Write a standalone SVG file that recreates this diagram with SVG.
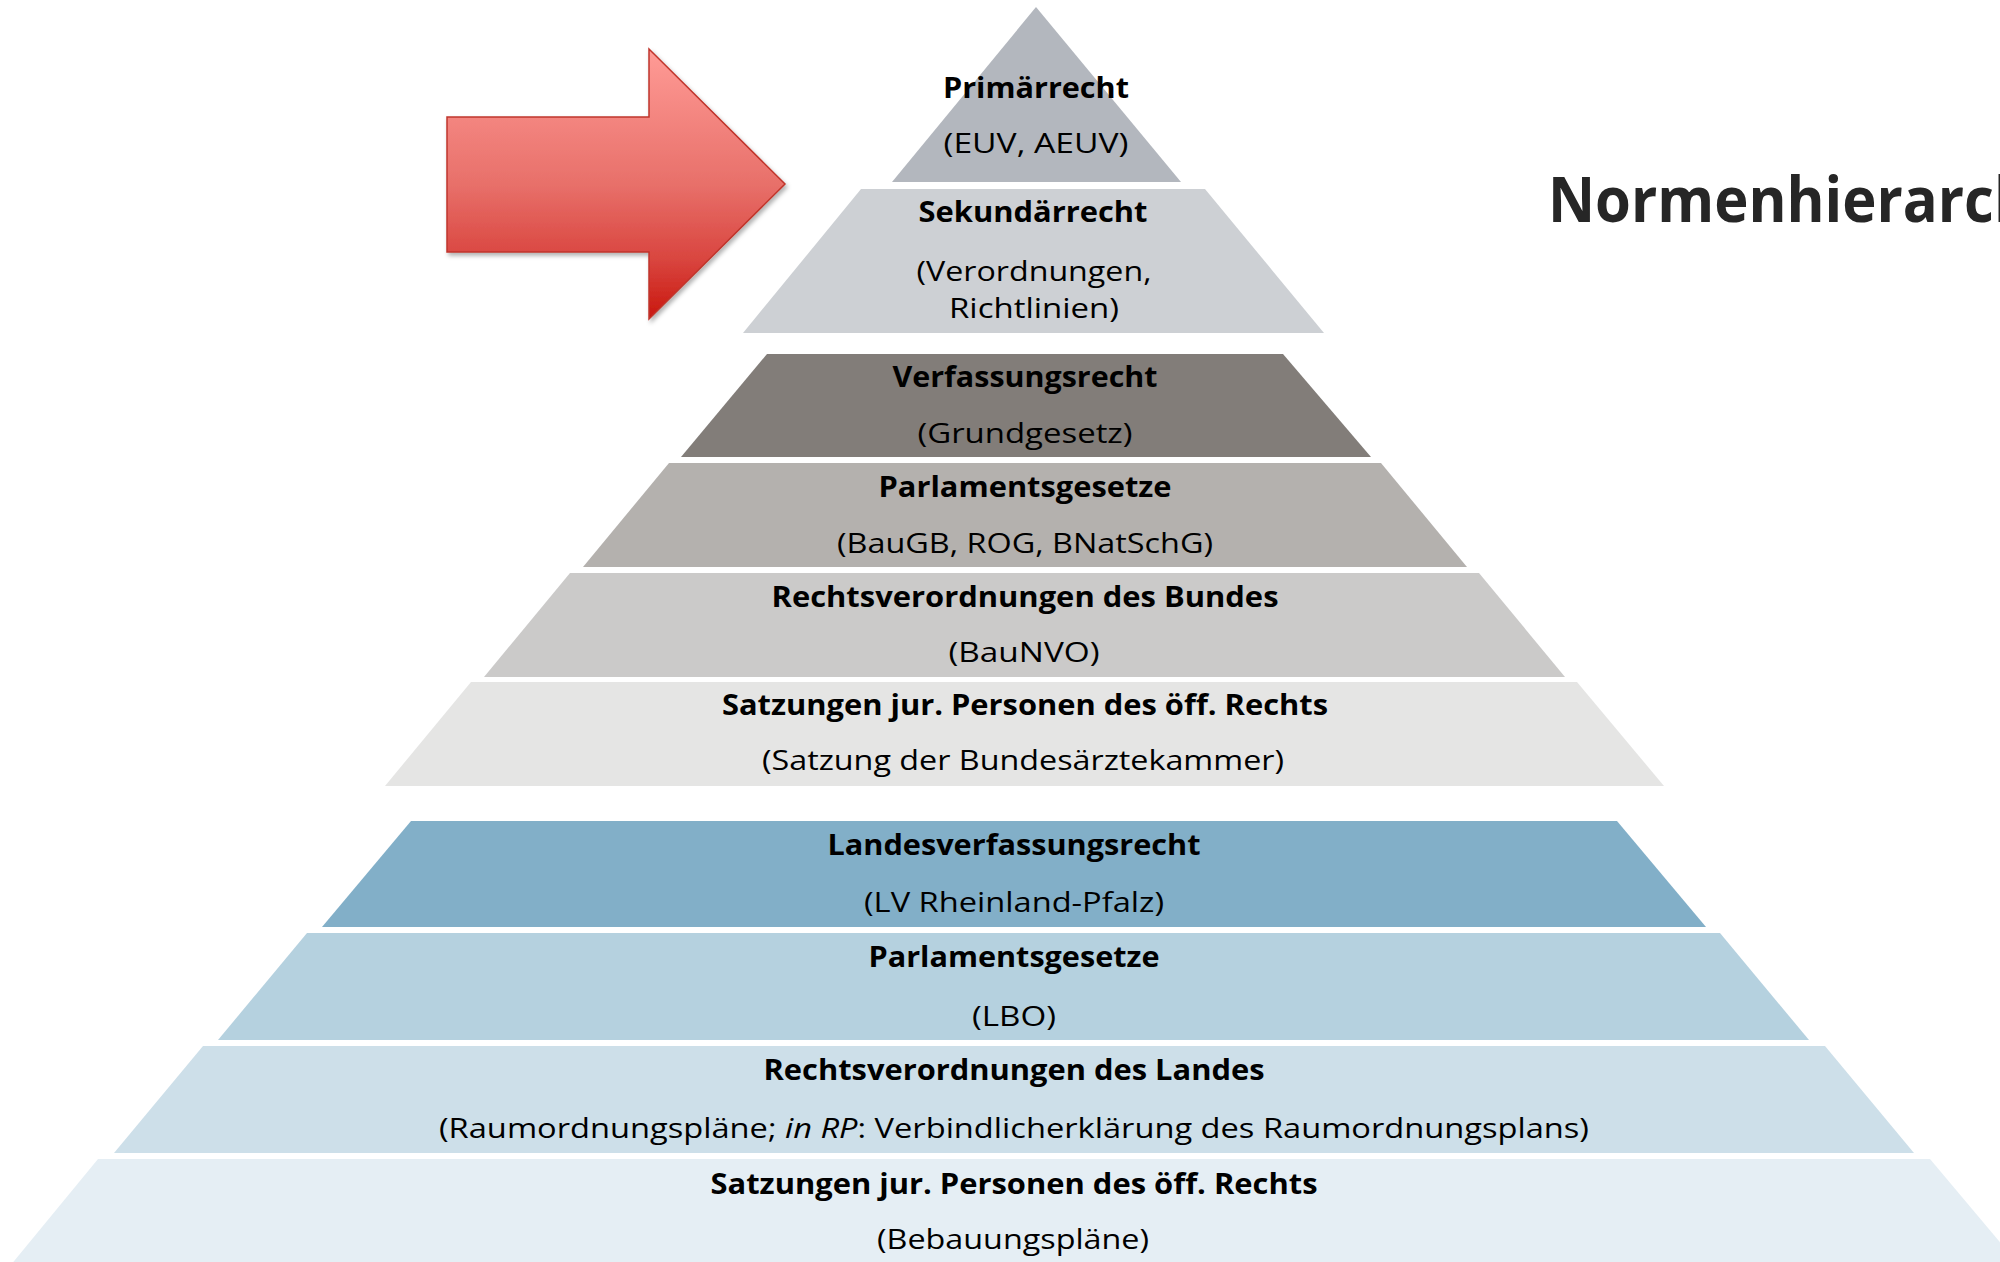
<svg xmlns="http://www.w3.org/2000/svg" width="2000" height="1262" viewBox="0 0 2000 1262">
  <defs>
    <linearGradient id="arrowGrad" x1="0" y1="49" x2="0" y2="319" gradientUnits="userSpaceOnUse">
      <stop offset="0" stop-color="#ff9b96"/>
      <stop offset="0.5" stop-color="#e8706a"/>
      <stop offset="0.78" stop-color="#d9453f"/>
      <stop offset="1" stop-color="#c9170e"/>
    </linearGradient>
    <filter id="shadow" x="-10%" y="-10%" width="130%" height="130%">
      <feDropShadow dx="2" dy="3" stdDeviation="2" flood-color="#000" flood-opacity="0.3"/>
    </filter>
    <style>
      .t { font-family: "Open Sans", "Liberation Sans", sans-serif; font-size: 28px; fill: #000; text-anchor: middle; }
      .b { font-weight: bold; }
      .title { font-family: "Open Sans", "Liberation Sans", sans-serif; font-size: 63px; font-weight: bold; fill: #262626; }
    </style>
  </defs>

  <rect x="0" y="0" width="2000" height="1262" fill="#ffffff"/>

  <g id="arrow">
    <polygon points="447,117 649,117 649,49 785,184 649,319 649,252 447,252" fill="url(#arrowGrad)" stroke="#c0352c" stroke-width="1.5" filter="url(#shadow)"/>
  </g>

  <g id="title">
    <text class="title" x="1548" y="222" textLength="484" lengthAdjust="spacingAndGlyphs">Normenhierarch</text>
  </g>

  <g id="primaerrecht">
    <polygon points="1036,7 1181,182 892,182" fill="#b3b7be"/>
    <text class="t b" x="1036" y="98" textLength="186" lengthAdjust="spacingAndGlyphs">Primärrecht</text>
    <text class="t" x="1036" y="153" textLength="185" lengthAdjust="spacingAndGlyphs">(EUV, AEUV)</text>
  </g>

  <g id="sekundaerrecht">
    <polygon points="861,189 1205,189 1324,333 743,333" fill="#cdd0d4"/>
    <text class="t b" x="1033" y="222" textLength="229" lengthAdjust="spacingAndGlyphs">Sekundärrecht</text>
    <text class="t" x="1034" y="281" textLength="235" lengthAdjust="spacingAndGlyphs">(Verordnungen,</text>
    <text class="t" x="1034" y="318" textLength="170" lengthAdjust="spacingAndGlyphs">Richtlinien)</text>
  </g>

  <g id="verfassungsrecht">
    <polygon points="767,354 1283,354 1371,457 681,457" fill="#827d79"/>
    <text class="t b" x="1025" y="387" textLength="265" lengthAdjust="spacingAndGlyphs">Verfassungsrecht</text>
    <text class="t" x="1025" y="443" textLength="215" lengthAdjust="spacingAndGlyphs">(Grundgesetz)</text>
  </g>

  <g id="parlamentsgesetze-bund">
    <polygon points="669,463 1381,463 1467,567 583,567" fill="#b4b1ae"/>
    <text class="t b" x="1025" y="497" textLength="293" lengthAdjust="spacingAndGlyphs">Parlamentsgesetze</text>
    <text class="t" x="1025" y="553" textLength="376" lengthAdjust="spacingAndGlyphs">(BauGB, ROG, BNatSchG)</text>
  </g>

  <g id="rechtsverordnungen-bund">
    <polygon points="570,573 1479,573 1565,677 484,677" fill="#cbcac9"/>
    <text class="t b" x="1025" y="607" textLength="507" lengthAdjust="spacingAndGlyphs">Rechtsverordnungen des Bundes</text>
    <text class="t" x="1024" y="662" textLength="151" lengthAdjust="spacingAndGlyphs">(BauNVO)</text>
  </g>

  <g id="satzungen-bund">
    <polygon points="471,682 1577,682 1664,786 385,786" fill="#e5e5e4"/>
    <text class="t b" x="1025" y="715" textLength="606" lengthAdjust="spacingAndGlyphs">Satzungen jur. Personen des öff. Rechts</text>
    <text class="t" x="1023" y="770" textLength="522" lengthAdjust="spacingAndGlyphs">(Satzung der Bundesärztekammer)</text>
  </g>

  <g id="landesverfassungsrecht">
    <polygon points="411,821 1617,821 1706,927 322,927" fill="#82afc8"/>
    <text class="t b" x="1014" y="855" textLength="373" lengthAdjust="spacingAndGlyphs">Landesverfassungsrecht</text>
    <text class="t" x="1014" y="912" textLength="300" lengthAdjust="spacingAndGlyphs">(LV Rheinland-Pfalz)</text>
  </g>

  <g id="parlamentsgesetze-land">
    <polygon points="307,933 1720,933 1809,1040 218,1040" fill="#b5d1df"/>
    <text class="t b" x="1014" y="967" textLength="291" lengthAdjust="spacingAndGlyphs">Parlamentsgesetze</text>
    <text class="t" x="1014" y="1026" textLength="84" lengthAdjust="spacingAndGlyphs">(LBO)</text>
  </g>

  <g id="rechtsverordnungen-land">
    <polygon points="203,1046 1825,1046 1914,1153 114,1153" fill="#cddfe9"/>
    <text class="t b" x="1014" y="1080" textLength="501" lengthAdjust="spacingAndGlyphs">Rechtsverordnungen des Landes</text>
    <text class="t" x="1014" y="1138" textLength="1150" lengthAdjust="spacingAndGlyphs">(Raumordnungspläne; <tspan font-style="italic">in RP</tspan>: Verbindlicherklärung des Raumordnungsplans)</text>
  </g>

  <g id="satzungen-land">
    <polygon points="98,1159 1930,1159 2020,1266 10,1266" fill="#e5eef4"/>
    <text class="t b" x="1014" y="1194" textLength="607" lengthAdjust="spacingAndGlyphs">Satzungen jur. Personen des öff. Rechts</text>
    <text class="t" x="1013" y="1249" textLength="272" lengthAdjust="spacingAndGlyphs">(Bebauungspläne)</text>
  </g>

  <g id="connectors"/>
</svg>
